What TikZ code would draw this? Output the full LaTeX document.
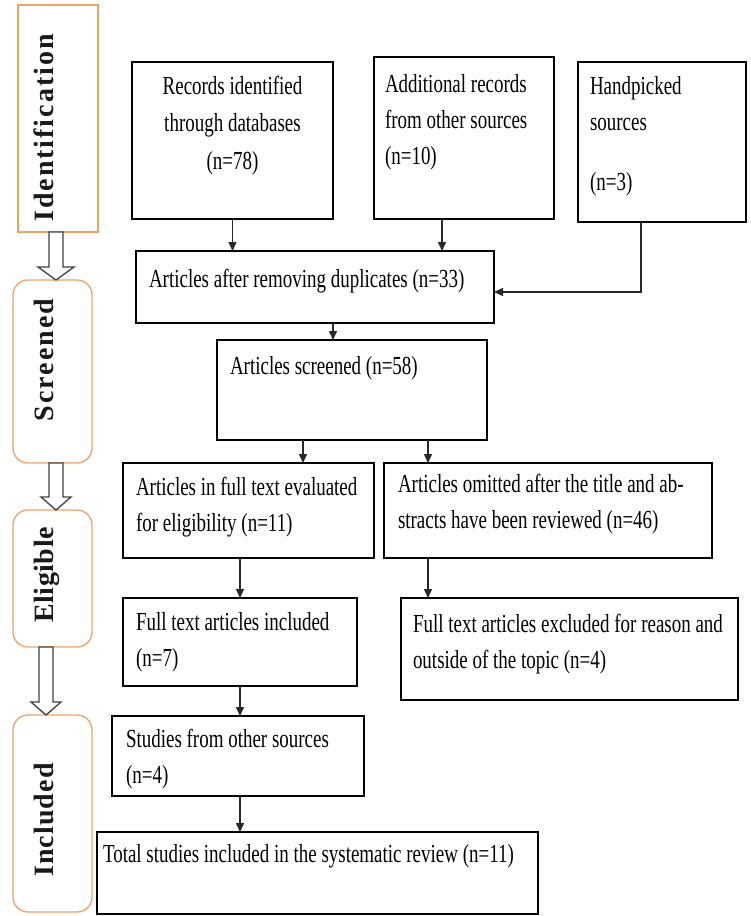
\documentclass[tikz,border=0pt]{standalone}
\usepackage{fontspec}
\setmainfont{Liberation Serif}[FakeStretch=0.73]
\newfontfamily\stagefont{Liberation Serif}
\usetikzlibrary{arrows.meta,calc}
\definecolor{stageorange}{RGB}{243,160,100}
\definecolor{linegray}{RGB}{40,40,40}
% w, h, left pad, first baseline, text
\newcommand\bx[5]{\parbox[c][#2pt][t]{#1pt}{\vspace*{\dimexpr#4pt-25.2pt\relax}\raggedright\leftskip=#3pt\relax\strut#5}}
% w, h, first baseline, text (centered)
\newcommand\bxc[4]{\parbox[c][#2pt][t]{#1pt}{\vspace*{\dimexpr#3pt-25.2pt\relax}\centering\strut#4}}
\tikzset{
  box/.style={draw=black, line width=1.8pt, inner sep=0pt, outer sep=0pt, anchor=north west,
    font=\fontsize{26}{36}\selectfont},
  stage/.style={draw=stageorange, line width=1.3pt, rounded corners=15pt, inner sep=0pt,
    outer sep=0pt, anchor=north west},
  stagelabel/.style={rotate=90, inner sep=0pt, text height=19pt, text depth=0pt,
    text=black!90, font=\stagefont\bfseries\fontsize{28}{32}\selectfont},
  barr/.style={draw=black!75, fill=white, line width=1.3pt, line join=miter},
  arr/.style={draw=linegray, line width=1.4pt, -{Triangle[length=9pt,width=8pt]}}
}
\begin{document}
\begin{tikzpicture}[x=1pt,y=-1pt]
\useasboundingbox[fill=white] (0,0) rectangle (750,916);

% stage boxes
\node[stage, sharp corners, minimum width=80pt, minimum height=227pt] (id) at (18,5) {};
\node[stage, minimum width=79pt, minimum height=183pt] (scrst) at (13,280) {};
\node[stage, minimum width=79pt, minimum height=137pt] (elig) at (13,510) {};
\node[stage, minimum width=79pt, minimum height=197pt] (incst) at (13,715) {};

\node[stagelabel] (tid) at (44,128) {\addfontfeature{LetterSpace=7}Identification};
\node[stagelabel] (tscr) at (44,360) {\addfontfeature{LetterSpace=7}Screened};
\node[stagelabel] (telig) at (44,575) {\addfontfeature{LetterSpace=2}Eligible};
\node[stagelabel] (tinc) at (44,820) {\addfontfeature{LetterSpace=4}Included};

% block arrows
\draw[barr] let \p1=(id.south), \p2=(scrst.north) in
  (49pt,\y1) -- (63pt,\y1) -- (63pt,\y2+13pt) -- (74pt,\y2+13pt) -- (56pt,\y2)
  -- (38pt,\y2+13pt) -- (49pt,\y2+13pt) -- cycle;
\draw[barr] let \p1=(scrst.south), \p2=(elig.north) in
  (49pt,\y1) -- (63pt,\y1) -- (63pt,\y2+13pt) -- (71pt,\y2+13pt) -- (56pt,\y2)
  -- (41pt,\y2+13pt) -- (49pt,\y2+13pt) -- cycle;
\draw[barr] let \p1=(elig.south), \p2=(incst.north) in
  (39pt,\y1) -- (53pt,\y1) -- (53pt,\y2+13pt) -- (61pt,\y2+13pt) -- (46pt,\y2)
  -- (31pt,\y2+13pt) -- (39pt,\y2+13pt) -- cycle;

% flow boxes
\node[box] (rec) at (132,62) {\bxc{201}{157}{32}{Records identified\\[1.5pt]through databases\\[1.5pt](n=78)}};
\node[box] (add) at (374,57) {\bx{180}{162}{11}{35}{Additional records\\from other sources\\(n=10)}};
\node[box] (hand) at (578,62) {\bx{168}{160}{12}{32}{Handpicked\\sources\\[24pt](n=3)}};
\node[box] (after) at (136,251) {\bx{358}{72}{13}{36}{Articles after removing duplicates (n=33)}};
\node[box] (scr) at (217,340) {\bx{270}{100}{13}{34}{Articles screened (n=58)}};
\node[box] (fte) at (123,463) {\bx{251}{95}{13}{32}{Articles in full text evaluated\\for eligibility (n=11)}};
\node[box] (omit) at (384,463) {\bx{328}{95}{14}{29}{Articles omitted after the title and ab-\\stracts have been reviewed (n=46)}};
\node[box] (inc) at (123,598) {\bx{234}{88}{13}{32}{Full text articles included\\(n=7)}};
\node[box] (excl) at (401,598) {\bx{337}{102}{12}{34}{Full text articles excluded for reason and\\outside of the topic (n=4)}};
\node[box] (stud) at (112,716) {\bx{252}{80}{14}{31}{Studies from other sources\\(n=4)}};
\node[box] (tot) at (97,832) {\bx{441}{82}{6}{30}{Total studies included in the systematic review (n=11)}};

% connectors
\draw[arr] (rec.south) -- (rec.south |- after.north);
\draw[arr] ([xshift=-22pt]add.south) -- ([xshift=-22pt]add.south |- after.north);
\draw[arr] ([xshift=-21pt]hand.south) |- ([yshift=-5pt]after.east);
\draw[arr] ([xshift=18pt]after.south) -- ([xshift=18pt]after.south |- scr.north);
\draw[arr] ([xshift=-49pt]scr.south) -- ([xshift=-49pt]scr.south |- fte.north);
\draw[arr] ([xshift=76pt]scr.south) -- ([xshift=76pt]scr.south |- omit.north);
\draw[arr] (inc.north |- fte.south) -- (inc.north);
\draw[arr] ([xshift=-120pt]omit.south) -- ([xshift=-120pt]omit.south |- excl.north);
\draw[arr] (inc.south) -- (inc.south |- stud.north);
\draw[arr] (inc.south |- stud.south) -- (inc.south |- tot.north);
\end{tikzpicture}
\end{document}
